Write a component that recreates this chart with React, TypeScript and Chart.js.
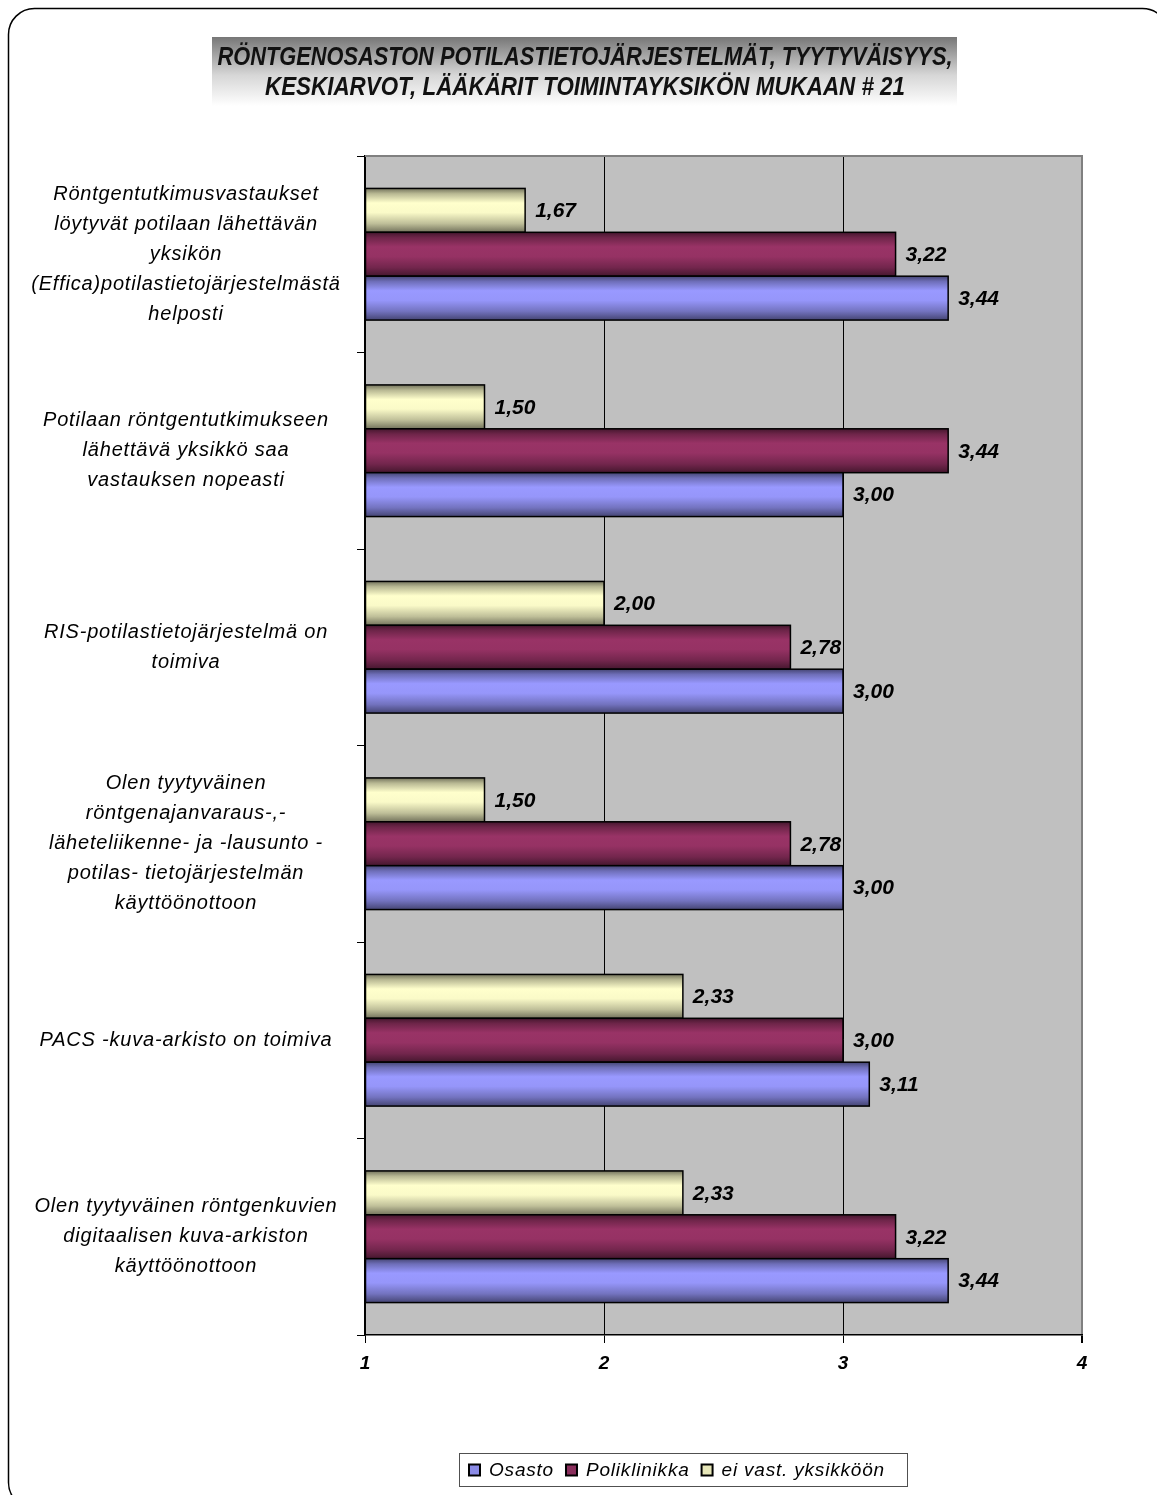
import React, { useEffect, useRef } from 'react';
import { Chart, registerables } from 'chart.js';

Chart.register(...registerables);

// ---------- DATA ----------
const categories: string[][] = [
  ['Röntgentutkimusvastaukset', 'löytyvät potilaan lähettävän', 'yksikön', '(Effica)potilastietojärjestelmästä', 'helposti'],
  ['Potilaan röntgentutkimukseen', 'lähettävä yksikkö saa', 'vastauksen nopeasti'],
  ['RIS-potilastietojärjestelmä on', 'toimiva'],
  ['Olen tyytyväinen', 'röntgenajanvaraus-,-', 'läheteliikenne- ja -lausunto -', 'potilas- tietojärjestelmän', 'käyttöönottoon'],
  ['PACS -kuva-arkisto on toimiva'],
  ['Olen tyytyväinen röntgenkuvien', 'digitaalisen kuva-arkiston', 'käyttöönottoon'],
];
const osasto = [3.44, 3.0, 3.0, 3.0, 3.11, 3.44];
const poliklinikka = [3.22, 3.44, 2.78, 2.78, 3.0, 3.22];
const eiVast = [1.67, 1.5, 2.0, 1.5, 2.33, 2.33];
const seriesNames = ['Osasto', 'Poliklinikka', 'ei vast. yksikköön'];
const xTickValues = [1, 2, 3, 4];
const titleLines = [
  'RÖNTGENOSASTON POTILASTIETOJÄRJESTELMÄT, TYYTYVÄISYYS,',
  'KESKIARVOT, LÄÄKÄRIT TOIMINTAYKSIKÖN MUKAAN # 21',
];

// ---------- STYLE ----------
const W = 1157;
const H = 1495;
const FONT = '"Liberation Sans", Arial, Helvetica, sans-serif';
const PLOT = { left: 365, top: 156, right: 1082, bottom: 1335 };
const Y_AXIS_W = 10;
const X_AXIS_H = 50;
const colOsasto: [number, number, number] = [153, 153, 255];
const colPoli: [number, number, number] = [153, 51, 102];
const colEi: [number, number, number] = [255, 255, 204];

const rgb = (c: [number, number, number], f: number) =>
  `rgb(${Math.round(c[0] * f)},${Math.round(c[1] * f)},${Math.round(c[2] * f)})`;

const fmt = (v: number) => v.toFixed(2).replace('.', ',');

const customPlugin = {
  id: 'customDraw',
  beforeDraw(chart: any) {
    const ctx = chart.ctx as CanvasRenderingContext2D;
    const ca = chart.chartArea;
    ctx.save();
    ctx.fillStyle = '#ffffff';
    ctx.fillRect(0, 0, chart.width, chart.height);
    ctx.strokeStyle = '#000';
    ctx.lineWidth = 1.5;
    ctx.beginPath();
    (ctx as any).roundRect(8.5, 8.5, 1160, 1500, 26);
    ctx.stroke();
    ctx.fillStyle = '#c0c0c0';
    ctx.fillRect(ca.left, ca.top, ca.right - ca.left, ca.bottom - ca.top);
    ctx.restore();
  },
  afterDatasetsDraw(chart: any) {
    const ctx = chart.ctx as CanvasRenderingContext2D;
    const labels: { x: number; y: number; t: string }[] = [];
    ctx.save();
    chart.data.datasets.forEach((ds: any, di: number) => {
      const meta = chart.getDatasetMeta(di);
      const col = ds.baseRgb as [number, number, number];
      meta.data.forEach((el: any, i: number) => {
        const p = el.getProps(['x', 'y', 'base', 'height'], true);
        const top = p.y - p.height / 2;
        const bot = p.y + p.height / 2;
        const l = Math.min(p.base, p.x);
        const r = Math.max(p.base, p.x);
        const g = ctx.createLinearGradient(0, top, 0, bot);
        g.addColorStop(0, rgb(col, 0.45));
        g.addColorStop(0.12, rgb(col, 0.72));
        g.addColorStop(0.33, rgb(col, 1.0));
        g.addColorStop(0.55, rgb(col, 0.98));
        g.addColorStop(0.8, rgb(col, 0.75));
        g.addColorStop(1, rgb(col, 0.45));
        ctx.fillStyle = g;
        ctx.fillRect(l, top, r - l, bot - top);
        ctx.strokeStyle = '#000';
        ctx.lineWidth = 1.5;
        ctx.strokeRect(l, top, r - l, bot - top);
        labels.push({ x: r + 10, y: p.y, t: fmt(ds.data[i]) });
      });
    });
    ctx.fillStyle = '#000';
    ctx.font = `italic bold 21px ${FONT}`;
    ctx.textAlign = 'left';
    ctx.textBaseline = 'middle';
    labels.forEach((lb) => ctx.fillText(lb.t, lb.x, lb.y + 1));
    ctx.restore();
  },
  afterDraw(chart: any) {
    const ctx = chart.ctx as CanvasRenderingContext2D;
    const ca = chart.chartArea;
    ctx.save();
    ctx.strokeStyle = '#808080';
    ctx.lineWidth = 2;
    ctx.beginPath();
    ctx.moveTo(ca.left, ca.top);
    ctx.lineTo(ca.right + 1, ca.top);
    ctx.stroke();

    // title box with gradient
    const tb = { x: 212, y: 37, w: 745, h: 69 };
    const tg = ctx.createLinearGradient(0, tb.y, 0, tb.y + tb.h);
    tg.addColorStop(0, '#777777');
    tg.addColorStop(0.55, '#d6d6d6');
    tg.addColorStop(1, '#ffffff');
    ctx.fillStyle = tg;
    ctx.fillRect(tb.x, tb.y, tb.w, tb.h);
    ctx.fillStyle = '#111';
    ctx.font = `italic bold 25px ${FONT}`;
    ctx.textBaseline = 'middle';
    ctx.textAlign = 'center';
    const targets = [735, 640];
    const ys = [58, 88];
    titleLines.forEach((line, i) => {
      const m = ctx.measureText(line).width;
      const sx = targets[i] / m;
      ctx.save();
      ctx.translate(585, ys[i]);
      ctx.scale(sx, 1);
      ctx.fillText(line, 0, 0);
      ctx.restore();
    });

    // category labels
    const yScale = chart.scales.y;
    ctx.fillStyle = '#000';
    ctx.font = `italic 20px ${FONT}`;
    (ctx as any).letterSpacing = '0.8px';
    ctx.textAlign = 'center';
    ctx.textBaseline = 'middle';
    const lh = 30;
    categories.forEach((lines, i) => {
      const cy = yScale.getPixelForTick(i);
      const start = cy - ((lines.length - 1) * lh) / 2;
      lines.forEach((ln, k) => ctx.fillText(ln, 186, start + k * lh));
    });

    // legend
    const lb = { x: 459, y: 1453, w: 448, h: 33 };
    ctx.strokeStyle = '#505050';
    ctx.lineWidth = 1;
    ctx.strokeRect(lb.x + 0.5, lb.y + 0.5, lb.w, lb.h);
    ctx.font = `italic 19px ${FONT}`;
    (ctx as any).letterSpacing = '0.8px';
    ctx.textAlign = 'left';
    const order = [2, 1, 0];
    let x = 469;
    const cy = lb.y + lb.h / 2 + 1;
    order.forEach((di) => {
      const ds = chart.data.datasets[di];
      ctx.fillStyle = rgb(ds.baseRgb, 0.9);
      ctx.fillRect(x, cy - 6, 11, 11);
      ctx.strokeStyle = '#000';
      ctx.lineWidth = 2;
      ctx.strokeRect(x, cy - 6, 11, 11);
      ctx.fillStyle = '#000';
      ctx.fillText(ds.label, x + 20, cy);
      x += 20 + ctx.measureText(ds.label).width + 12;
    });
    (ctx as any).letterSpacing = '0px';
    ctx.restore();
  },
};

export default function App() {
  const ref = useRef<HTMLCanvasElement | null>(null);
  useEffect(() => {
    if (!ref.current) return;
    const chart = new Chart(ref.current, {
      type: 'bar',
      data: {
        labels: categories.map((c) => c.join(' ')),
        datasets: [
          { label: seriesNames[2], data: eiVast, backgroundColor: rgb(colEi, 1), baseRgb: colEi } as any,
          { label: seriesNames[1], data: poliklinikka, backgroundColor: rgb(colPoli, 1), baseRgb: colPoli } as any,
          { label: seriesNames[0], data: osasto, backgroundColor: rgb(colOsasto, 1), baseRgb: colOsasto } as any,
        ],
      },
      options: {
        indexAxis: 'y',
        responsive: false,
        animation: false,
        devicePixelRatio: 1,
        datasets: { bar: { categoryPercentage: 0.67, barPercentage: 1.0, borderWidth: 0, base: xTickValues[0] } },
        layout: {
          padding: {
            left: PLOT.left - Y_AXIS_W,
            top: PLOT.top,
            right: W - PLOT.right,
            bottom: H - PLOT.bottom - X_AXIS_H,
          },
        },
        plugins: {
          legend: { display: false },
          title: { display: false },
          tooltip: { enabled: false },
        },
        scales: {
          x: {
            type: 'linear',
            min: xTickValues[0],
            max: xTickValues[xTickValues.length - 1],
            afterFit: (s: any) => {
              s.height = X_AXIS_H;
            },
            afterBuildTicks: (s: any) => {
              s.ticks = xTickValues.map((v) => ({ value: v }));
            },
            ticks: {
              color: '#000',
              padding: 9,
              font: { family: FONT, size: 19, style: 'italic', weight: 'bold' },
              callback: (v: any) => String(v),
            },
            grid: {
              color: (c: any) => (c.tick && c.tick.value === 4 ? '#808080' : '#000'),
              lineWidth: (c: any) => (c.tick && c.tick.value === 4 ? 2 : 1),
              tickColor: '#000',
              tickLength: 8,
            },
            border: { display: true, color: '#000', width: 1.5 },
          },
          y: {
            type: 'category',
            afterFit: (s: any) => {
              s.width = Y_AXIS_W;
            },
            ticks: { display: false },
            grid: {
              offset: true,
              drawOnChartArea: false,
              color: '#000',
              tickLength: 8,
              lineWidth: 1,
            },
            border: { display: true, color: '#000', width: 1.5 },
          },
        },
      } as any,
      plugins: [customPlugin],
    });
    return () => chart.destroy();
  }, []);
  return (
    <div style={{ position: 'absolute', left: 0, top: 0, width: W, height: H }}>
      <canvas ref={ref} width={W} height={H} style={{ width: W, height: H, display: 'block' }} />
    </div>
  );
}
